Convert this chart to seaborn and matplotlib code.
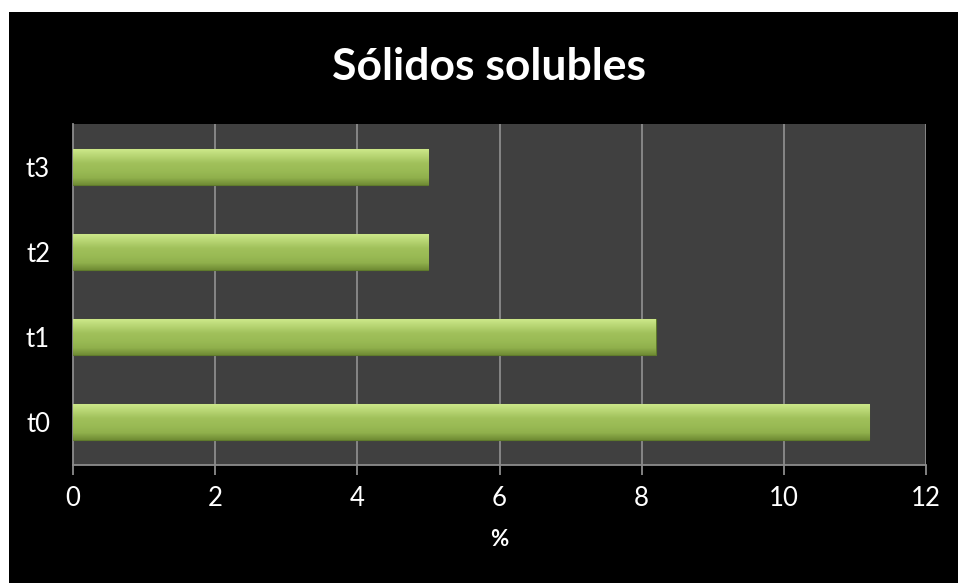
import numpy as np
import pandas as pd
import matplotlib
matplotlib.use("Agg")
import matplotlib.pyplot as plt
from matplotlib.patches import Rectangle
from matplotlib.colors import LinearSegmentedColormap
import seaborn as sns

# Soluble solids (%) per sampling time
categories = ["t3", "t2", "t1", "t0"]
values = [5.0, 5.0, 8.2, 11.2]
x_ticks = [0, 2, 4, 6, 8, 10, 12]

sns.set_theme(style="dark")
plt.rcParams["font.family"] = ["Lato", "DejaVu Sans"]

fig = plt.figure(figsize=(9.58, 5.83), dpi=100)
fig.patch.set_facecolor("white")
# black chart area with a thin white margin on the left and top
fig.add_artist(Rectangle((9 / 958, 0), 949 / 958, 571 / 583,
                         transform=fig.transFigure, facecolor="black",
                         edgecolor="none", zorder=0))

ax = fig.add_axes([73 / 958, 1 - 465 / 583, 853 / 958, 341 / 583])
ax.set_facecolor("#404040")

df = pd.DataFrame({"cat": categories, "val": values})
sns.barplot(data=df, x="val", y="cat", orient="h", color="#9BBB59",
            width=0.42, ax=ax, zorder=3, edgecolor="#5F7A2C", linewidth=0.8,
            saturation=1)

# glossy vertical gradient on each bar: light on top, darker at the bottom
grad = LinearSegmentedColormap.from_list(
    "bar", ["#CDE88A", "#B6D472", "#A0C05A", "#9ABB55", "#90B04C", "#6F8B34"])
g = np.linspace(0, 1, 256).reshape(-1, 1)
for p in ax.patches:
    x0, y0 = p.get_x(), p.get_y()
    w, h = p.get_width(), p.get_height()
    im = ax.imshow(g, cmap=grad, aspect="auto", zorder=4,
                   extent=[x0, x0 + w, y0 + h, y0], origin="upper")
    im.set_clip_path(p)
ax.set_ylim(3.5, -0.5)
ax.set_xlim(0, 12)
ax.set_xticks(x_ticks)
ax.set_xticklabels([str(t) for t in x_ticks])

# grid and axes lines
ax.grid(False)
for t in x_ticks[1:]:
    ax.axvline(t, color="#8C8C8C", lw=1.3, zorder=2)
for s in ["top", "right"]:
    ax.spines[s].set_visible(False)
for s in ["left", "bottom"]:
    ax.spines[s].set_visible(True)
    ax.spines[s].set_color("#8C8C8C")
    ax.spines[s].set_linewidth(1.3)

ax.tick_params(axis="x", colors="white", labelsize=18.5, length=7, width=1.3,
               color="#8C8C8C", direction="out", pad=8, bottom=True)
ax.tick_params(axis="y", colors="white", labelsize=18.5, length=0, pad=16.5)

ax.set_ylabel("")
ax.set_xlabel("%", color="white", fontsize=16, fontweight="bold", labelpad=13)

fig.text(489 / 958, 1 - 67 / 583, "Sólidos solubles", color="white",
         fontsize=32, fontweight="bold", ha="center", va="center")

fig.savefig("out.png", dpi=100, facecolor=fig.get_facecolor())
